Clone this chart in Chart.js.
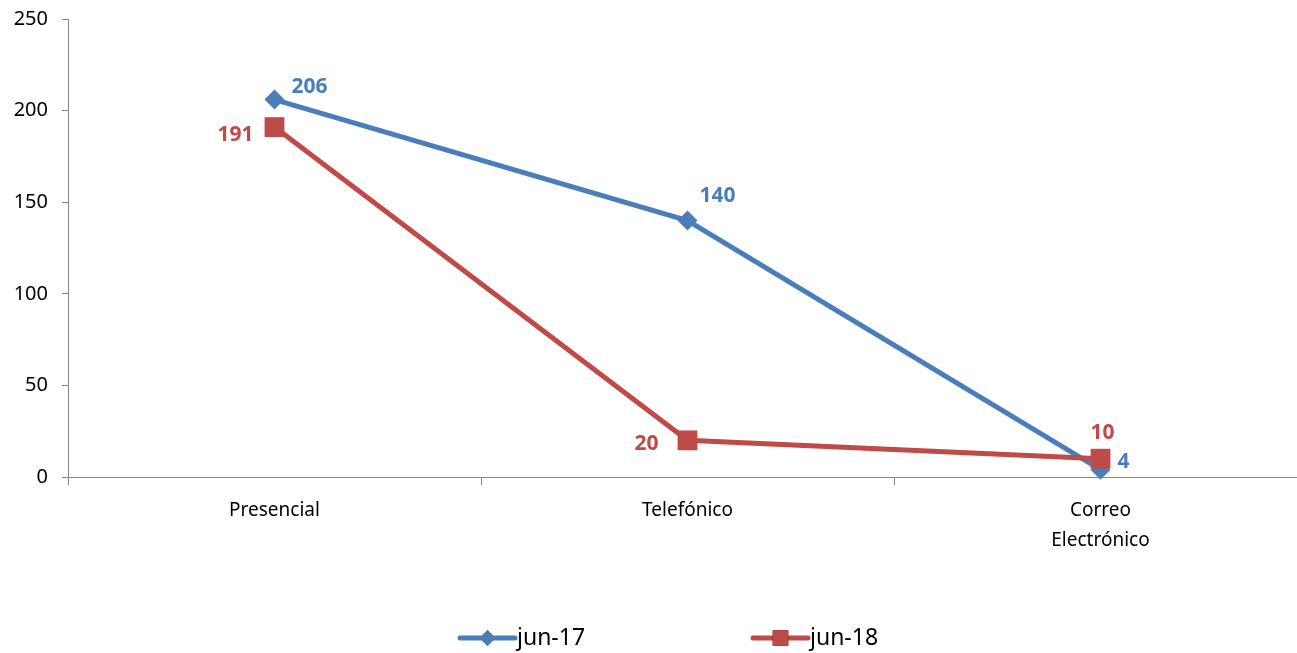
<!DOCTYPE html>
<html>
<head>
<meta charset="utf-8">
<script src="https://cdn.jsdelivr.net/npm/chart.js@4.4.1/dist/chart.umd.min.js"></script>
<style>
  html, body { margin: 0; padding: 0; overflow: hidden; background: #fff; }
  #wrap { width: 1310px; height: 653px; position: relative; }
</style>
</head>
<body>
<div id="wrap"><canvas id="lineChart" width="1310" height="653"></canvas></div>
<script>
// data
var categories = ['Presencial', 'Telefónico', ['Correo', 'Electrónico']]
var jun17 = [206, 140, 4]
var jun18 = [191, 20, 10]
var seriesNames = ['jun-17', 'jun-18']
var yTicks = [0, 50, 100, 150, 200, 250]

var blue = '#4A7EBB'
var red = '#BE4B48'
var axisColor = '#868686'

// where each value label sits relative to its point (dx, dy of text centre)
var labelOffsets = [
    [[35, -13], [30, -25], [23, -8]],
    [[-39, 8], [-41, 4], [2, -26]]
]

var valueLabels = {
    id: 'valueLabels',
    afterDatasetsDraw: function (chart) {
        var ctx = chart.ctx
        ctx.save()
        ctx.font = 'bold 21px "Noto Sans"'
        ctx.textAlign = 'center'
        ctx.textBaseline = 'middle'
        chart.data.datasets.forEach(function (ds, i) {
            var meta = chart.getDatasetMeta(i)
            ctx.fillStyle = ds.borderColor
            meta.data.forEach(function (pt, j) {
                var off = labelOffsets[i][j]
                ctx.fillText(String(ds.data[j]), pt.x + off[0], pt.y + off[1])
            })
        })
        ctx.restore()
    }
}

var bottomLegend = {
    id: 'bottomLegend',
    afterDraw: function (chart) {
        var ctx = chart.ctx
        var y = 638
        var x = 460
        ctx.save()
        ctx.font = '23px "Noto Sans"'
        ctx.textBaseline = 'middle'
        ctx.textAlign = 'left'
        chart.data.datasets.forEach(function (ds) {
            ctx.strokeStyle = ds.borderColor
            ctx.lineWidth = 5
            ctx.lineCap = 'round'
            ctx.beginPath()
            ctx.moveTo(x, y)
            ctx.lineTo(x + 55, y)
            ctx.stroke()
            Chart.helpers.drawPoint(ctx, {
                pointStyle: ds.pointStyle,
                radius: ds.pointStyle === 'rect' ? 11 : 8,
                rotation: 0,
                borderWidth: 0
            }, x + 27.5, y)
            ctx.fillStyle = ds.borderColor
            ctx.fill()
            ctx.fillStyle = '#000'
            ctx.fillText(ds.label, x + 57, y)
            x = 753
        })
        ctx.restore()
    }
}

new Chart(document.getElementById('lineChart'), {
    type: 'line',
    data: {
        labels: categories,
        datasets: [{
            label: seriesNames[0],
            data: jun17,
            borderColor: blue,
            backgroundColor: blue,
            borderWidth: 5,
            pointStyle: 'rectRot',
            pointRadius: 10,
            pointHoverRadius: 10,
            pointBorderWidth: 0,
            tension: 0,
            clip: false,
            order: 1
        }, {
            label: seriesNames[1],
            data: jun18,
            borderColor: red,
            backgroundColor: red,
            borderWidth: 5,
            pointStyle: 'rect',
            pointRadius: 14,
            pointHoverRadius: 14,
            pointBorderWidth: 0,
            tension: 0,
            clip: false,
            order: 0
        }]
    },
    options: {
        responsive: false,
        animation: false,
        layout: { autoPadding: false, padding: { top: 19, right: 3, left: 0, bottom: 0 } },
        plugins: {
            legend: { display: false },
            tooltip: { enabled: false }
        },
        scales: {
            x: {
                offset: true,
                grid: {
                    offset: true,
                    drawOnChartArea: false,
                    drawTicks: true,
                    tickLength: 8,
                    color: axisColor,
                    lineWidth: 1
                },
                border: { display: true, color: axisColor, width: 1 },
                ticks: {
                    color: '#000',
                    padding: 11,
                    maxRotation: 0,
                    autoSkip: false,
                    font: { family: 'Noto Sans', size: 19, lineHeight: 1.55 }
                },
                afterFit: function (scale) {
                    scale.height = 176
                    scale.paddingLeft = 0
                    scale.paddingRight = 0
                }
            },
            y: {
                min: 0,
                max: 250,
                afterBuildTicks: function (scale) {
                    scale.ticks = yTicks.map(function (v) { return { value: v } })
                },
                grid: {
                    drawOnChartArea: false,
                    drawTicks: true,
                    tickLength: 6,
                    color: axisColor
                },
                border: { display: true, color: axisColor, width: 1 },
                ticks: {
                    color: '#000',
                    padding: 14,
                    font: { family: 'Noto Sans', size: 20 }
                },
                afterFit: function (scale) {
                    scale.width = 68
                    scale.paddingTop = 0
                    scale.paddingBottom = 0
                }
            }
        }
    },
    plugins: [valueLabels, bottomLegend]
})
</script>
</body>
</html>
